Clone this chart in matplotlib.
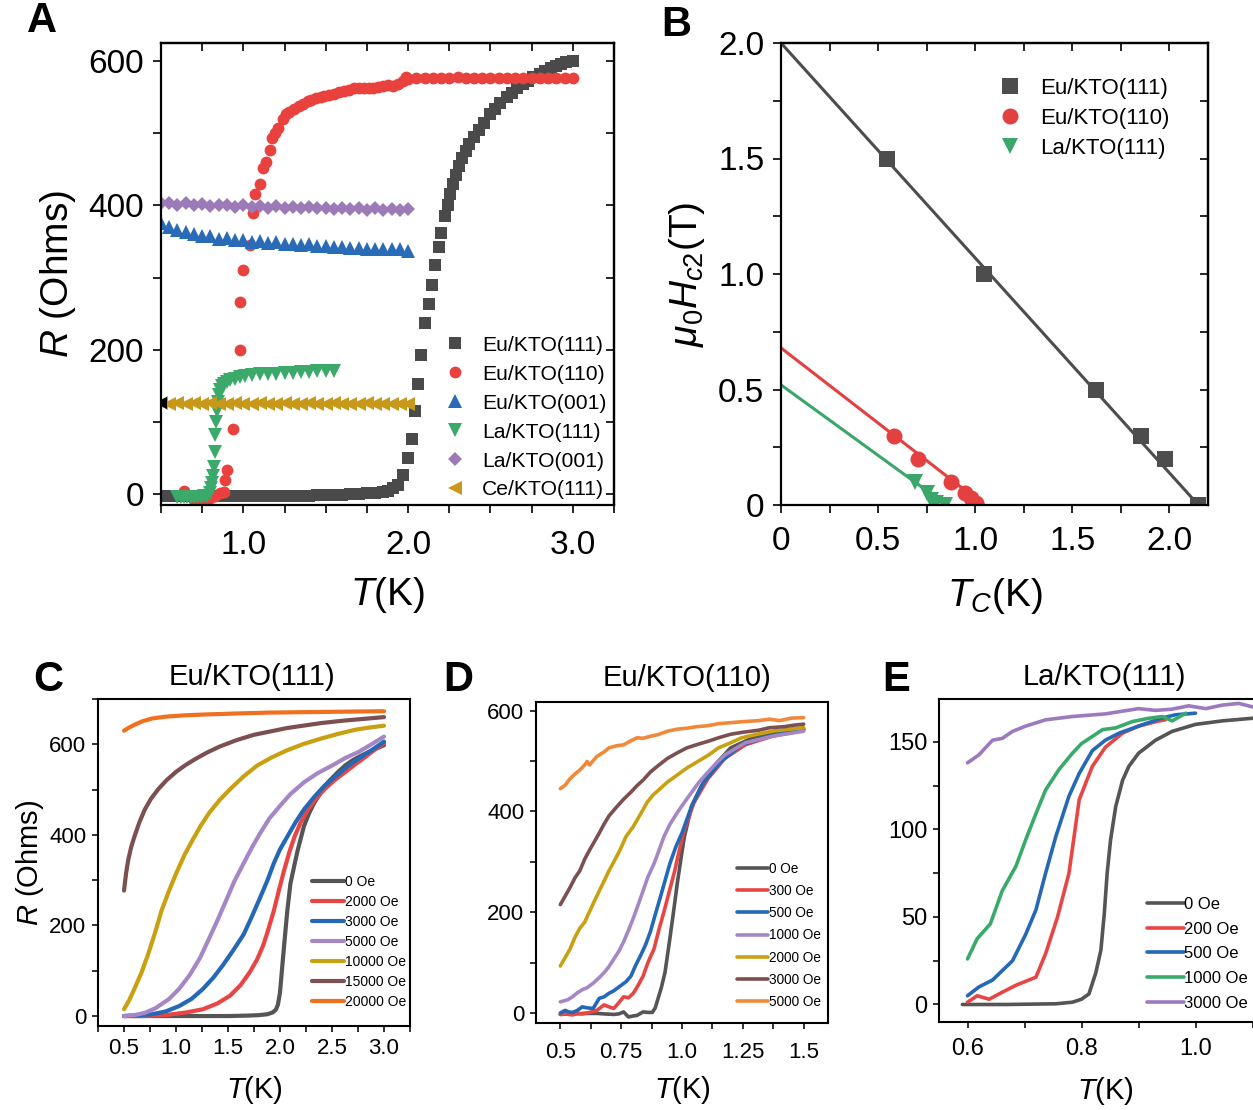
import numpy as np
import matplotlib
matplotlib.use("Agg")
import matplotlib.pyplot as plt
from matplotlib.ticker import MultipleLocator, FixedLocator

plt.rcParams['font.family'] = ['Liberation Sans', 'DejaVu Sans']
plt.rcParams['mathtext.fontset'] = 'custom'
plt.rcParams['mathtext.rm'] = 'Liberation Sans'
plt.rcParams['mathtext.it'] = 'Liberation Sans:italic'
plt.rcParams['mathtext.bf'] = 'Liberation Sans:bold'

# ---------------- Panel A: R(T) for the different interfaces ----------------
a_eu111_T = [0.50, 0.55, 0.60, 0.65, 0.70, 0.75, 0.80, 0.85, 0.90, 0.95, 1.00, 1.05, 1.10, 1.15,
             1.20, 1.25, 1.30, 1.35, 1.40, 1.45, 1.50, 1.55, 1.60, 1.65, 1.70, 1.75, 1.80, 1.85,
             1.88, 1.91, 1.94, 1.97, 2.00, 2.026, 2.043, 2.061, 2.081, 2.105, 2.125, 2.143, 2.163,
             2.185, 2.20, 2.222, 2.242, 2.254, 2.27, 2.29, 2.31, 2.33, 2.35, 2.37, 2.40, 2.43, 2.46,
             2.50, 2.53, 2.56, 2.60, 2.63, 2.66, 2.70, 2.73, 2.76, 2.80, 2.83, 2.87, 2.90, 2.93,
             2.96, 3.00]
a_eu111_R = [-2, -2, -2, -2, -2, -2, -2, -2, -2, -2, -2, -2, -2, -2,
             -2, -2, -2, -2, -2, -1, -1, -1, -1, 0, 0, 1, 2, 3,
             5, 8, 13, 27, 50, 77, 115, 153, 193, 237, 263, 290, 318,
             342, 362, 385, 401, 416, 430, 442, 455, 466, 476, 485, 495, 505, 514,
             526, 534, 542, 550, 556, 562, 568, 573, 578, 582, 586, 590, 593, 596,
             598, 600]

a_eu110_T = [0.64, 0.70, 0.74, 0.78, 0.80, 0.83, 0.86, 0.88, 0.89, 0.90, 0.94, 0.98, 0.98, 1.00,
             1.04, 1.06, 1.07, 1.10, 1.12, 1.14, 1.16, 1.175, 1.19, 1.21, 1.24, 1.26, 1.28, 1.31,
             1.34, 1.36, 1.39, 1.41, 1.44, 1.47, 1.49, 1.52, 1.55, 1.58, 1.61, 1.64, 1.67, 1.70,
             1.73, 1.76, 1.79, 1.82, 1.85, 1.88, 1.91, 1.94, 1.97, 1.99, 2.00, 2.05, 2.10, 2.15,
             2.20, 2.25, 2.30, 2.35, 2.40, 2.45, 2.50, 2.55, 2.60, 2.65, 2.70, 2.75, 2.80, 2.85,
             2.90, 2.95, 3.00]
a_eu110_R = [5, -8, -5, -8, -5, -3, 2, 3, 19, 33, 90, 200, 266, 311,
             345, 389, 416, 430, 452, 460, 477, 493, 500, 507, 520, 526, 530, 533,
             538, 540, 544, 546, 549, 550, 552, 553, 555, 557, 559, 560, 562, 563,
             562, 563, 562, 564, 566, 567, 566, 568, 572, 578, 575, 576, 577, 577,
             577, 577, 578, 577, 577, 577, 577, 577, 577, 577, 577, 577, 577, 577,
             577, 577, 576]

a_eu001_T = [0.50, 0.55, 0.60, 0.65, 0.70, 0.75, 0.80, 0.85, 0.90, 0.95, 1.00, 1.05, 1.10, 1.15,
             1.20, 1.25, 1.30, 1.35, 1.40, 1.45, 1.50, 1.55, 1.60, 1.65, 1.70, 1.75, 1.80, 1.85,
             1.90, 1.95, 2.00]
a_eu001_R = [375, 370, 366, 363, 361, 358, 357, 354, 355, 352, 352, 350, 351, 348,
             349, 346, 347, 345, 346, 344, 344, 342, 343, 341, 341, 340, 340, 339,
             339, 340, 337]

a_la111_T = [0.60, 0.62, 0.64, 0.66, 0.68, 0.70, 0.72, 0.74, 0.76, 0.78, 0.80, 0.805, 0.81, 0.815,
             0.82, 0.825, 0.83, 0.835, 0.84, 0.845, 0.85, 0.86, 0.87, 0.88, 0.90, 0.92, 0.95, 0.98,
             1.01, 1.05, 1.10, 1.15, 1.20, 1.25, 1.30, 1.35, 1.40, 1.45, 1.50, 1.55]
a_la111_R = [-4, -4, -4, -4, -4, -4, -4, -4, -3, -2, 2, 8, 15, 25,
             38, 58, 82, 100, 115, 127, 137, 145, 150, 153, 156, 158, 160, 162,
             164, 165, 166, 167, 167, 168, 168, 169, 169, 170, 170, 170]

a_la001_T = a_eu001_T
a_la001_R = [403, 404, 401, 403, 400, 402, 399, 401, 400, 398, 400, 398, 399, 397,
             399, 397, 398, 396, 398, 396, 397, 395, 397, 395, 396, 394, 396, 394,
             395, 394, 395]

a_ce111_T = a_eu001_T
a_ce111_R = [126, 125, 126, 125, 126, 125, 126, 125, 125, 126, 125, 125, 126, 125,
             125, 126, 125, 125, 126, 125, 125, 126, 125, 125, 125, 126, 125, 125,
             125, 125, 125]

# ---------------- Panel B: upper critical field vs Tc ----------------
b_eu111_Tc = [0.547, 1.045, 1.624, 1.855, 1.976, 2.15]
b_eu111_H = [1.5, 1.0, 0.5, 0.3, 0.2, 0.0]
b_eu110_Tc = [0.583, 0.708, 0.878, 0.949, 0.98, 1.005]
b_eu110_H = [0.3, 0.2, 0.1, 0.05, 0.03, 0.01]
b_la111_Tc = [0.69, 0.75, 0.775, 0.80, 0.845]
b_la111_H = [0.1, 0.05, 0.02, 0.01, 0.0]
# linear-fit lines (intercepts and slopes)
b_fit_eu111 = (2.0, -0.930)
b_fit_eu110 = (0.68, -0.650)
b_fit_la111 = (0.52, -0.610)

# ---------------- Panel C: Eu/KTO(111) field dependence ----------------
c_fields = ['0 Oe', '2000 Oe', '3000 Oe', '5000 Oe', '10000 Oe', '15000 Oe', '20000 Oe']
c_T = [
    [0.5, 0.7, 0.9, 1.1, 1.3, 1.5, 1.7, 1.8, 1.88, 1.93, 1.96, 1.98, 2.0, 2.02, 2.04, 2.07, 2.1,
     2.14, 2.17, 2.23, 2.28, 2.33, 2.4, 2.46, 2.55, 2.625, 2.7, 2.79, 2.9, 3.0],
    [0.5, 0.7, 0.9, 1.1, 1.26, 1.4, 1.52, 1.62, 1.71, 1.78, 1.84, 1.89, 1.94, 1.99, 2.04, 2.09,
     2.14, 2.2, 2.27, 2.35, 2.43, 2.52, 2.625, 2.72, 2.82, 2.91, 3.0],
    [0.5, 0.6, 0.77, 0.9, 1.03, 1.15, 1.26, 1.36, 1.45, 1.55, 1.65, 1.73, 1.81, 1.88, 1.94, 2.0,
     2.07, 2.15, 2.23, 2.33, 2.43, 2.55, 2.66, 2.78, 2.9, 3.0],
    [0.5, 0.6, 0.7, 0.8, 0.93, 1.03, 1.13, 1.23, 1.32, 1.4, 1.48, 1.56, 1.65, 1.73, 1.81, 1.9,
     2.0, 2.1, 2.23, 2.36, 2.5, 2.63, 2.755, 2.88, 3.0],
    [0.5, 0.55, 0.6, 0.67, 0.73, 0.8, 0.86, 0.93, 1.0, 1.08, 1.16, 1.24, 1.32, 1.42, 1.52, 1.65,
     1.78, 1.92, 2.07, 2.23, 2.4, 2.56, 2.72, 2.86, 3.0],
    [0.5, 0.52, 0.54, 0.57, 0.6, 0.65, 0.7, 0.76, 0.83, 0.91, 1.0, 1.09, 1.19, 1.3, 1.42, 1.58,
     1.75, 1.9, 2.07, 2.25, 2.4, 2.6, 2.8, 3.0],
    [0.5, 0.55, 0.6, 0.68, 0.77, 0.9, 1.09, 1.3, 1.58, 1.9, 2.23, 2.6, 3.0],
]
c_R = [
    [0, 0, 0, 0, 0, 0, 1, 2, 4, 8, 14, 25, 52, 105, 157, 232, 292, 335, 366, 419, 448, 471, 496,
     516, 537, 553, 565, 576, 588, 598],
    [0, 0, 2, 8, 15, 28, 45, 68, 97, 125, 157, 193, 232, 278, 322, 362, 396, 428, 456, 481, 501,
     520, 538, 555, 572, 588, 602],
    [0, 1, 4, 10, 22, 38, 60, 85, 112, 145, 180, 220, 262, 300, 337, 368, 396, 428, 456, 484, 509,
     532, 553, 572, 590, 606],
    [0, 2, 7, 17, 37, 60, 90, 128, 172, 212, 254, 297, 337, 372, 404, 437, 464, 490, 516, 536, 553,
     570, 583, 600, 617],
    [15, 35, 60, 97, 135, 185, 232, 275, 314, 355, 389, 421, 449, 477, 501, 529, 553, 571, 587, 601,
     613, 623, 632, 637, 641],
    [277, 315, 344, 374, 396, 429, 456, 480, 501, 521, 539, 554, 568, 582, 595, 609, 621, 628, 636,
     642, 647, 652, 656, 660],
    [630, 637, 643, 651, 657, 661, 664, 666, 668, 670, 671, 672, 673],
]
c_colors = ['#555555', '#e84545', '#2468b6', '#a587c6', '#c9a010', '#7c5050', '#f07020']

# ---------------- Panel D: Eu/KTO(110) field dependence ----------------
d_fields = ['0 Oe', '300 Oe', '500 Oe', '1000 Oe', '2000 Oe', '3000 Oe', '5000 Oe']
d_T = [
    [0.5, 0.55, 0.6, 0.65, 0.68, 0.72, 0.74, 0.76, 0.78, 0.8, 0.815, 0.84, 0.86, 0.878, 0.89, 0.9,
     0.915, 0.93, 0.95, 0.965, 0.98, 1.0, 1.01, 1.04, 1.08, 1.135, 1.2, 1.29, 1.385, 1.5],
    [0.5, 0.52, 0.55, 0.57, 0.59, 0.62, 0.65, 0.68, 0.7, 0.72, 0.74, 0.76, 0.78, 0.8, 0.82, 0.84,
     0.86, 0.885, 0.905, 0.926, 0.95, 0.97, 0.99, 1.01, 1.05, 1.107, 1.176, 1.26, 1.37, 1.5],
    [0.5, 0.52, 0.535, 0.55, 0.57, 0.59, 0.61, 0.635, 0.66, 0.68, 0.7, 0.72, 0.745, 0.77, 0.79,
     0.81, 0.83, 0.85, 0.87, 0.89, 0.91, 0.93, 0.95, 0.975, 1.0, 1.04, 1.09, 1.16, 1.245, 1.357,
     1.5],
    [0.5, 0.53, 0.55, 0.57, 0.59, 0.61, 0.635, 0.66, 0.68, 0.7, 0.72, 0.74, 0.76, 0.78, 0.8, 0.82,
     0.84, 0.86, 0.885, 0.905, 0.926, 0.95, 0.98, 1.01, 1.04, 1.07, 1.107, 1.14, 1.176, 1.26, 1.37,
     1.5],
    [0.5, 0.52, 0.54, 0.56, 0.58, 0.6, 0.62, 0.64, 0.66, 0.68, 0.7, 0.72, 0.745, 0.77, 0.8, 0.83,
     0.857, 0.88, 0.91, 0.94, 0.98, 1.02, 1.065, 1.11, 1.15, 1.2, 1.245, 1.3, 1.37, 1.44, 1.5],
    [0.5, 0.52, 0.54, 0.56, 0.58, 0.6, 0.62, 0.64, 0.66, 0.68, 0.7, 0.73, 0.76, 0.79, 0.815, 0.84,
     0.87, 0.9, 0.94, 0.98, 1.02, 1.065, 1.107, 1.15, 1.2, 1.25, 1.315, 1.36, 1.42, 1.46, 1.5],
    [0.5, 0.52, 0.54, 0.56, 0.58, 0.6, 0.61, 0.62, 0.65, 0.68, 0.7, 0.73, 0.76, 0.79, 0.815, 0.84,
     0.87, 0.9, 0.94, 0.98, 1.02, 1.06, 1.107, 1.15, 1.2, 1.25, 1.315, 1.36, 1.4, 1.45, 1.5],
]
d_R = [
    [-3, -2, -1, -1, -2, -3, -2, 2, -8, -6, -5, 2, 1, 1, 10, 26, 50, 80, 147, 200, 255, 320, 350,
     411, 451, 492, 526, 546, 556, 563],
    [-3, -2, -4, -1, -2, 1, 5, 16, 12, 9, 20, 32, 30, 39, 55, 73, 100, 127, 165, 201, 245, 282, 325,
     364, 418, 465, 505, 532, 549, 561],
    [0, 5, 2, 1, 5, 12, 10, 9, 29, 32, 39, 44, 53, 62, 73, 95, 114, 135, 161, 195, 228, 262, 296,
     330, 357, 411, 458, 499, 532, 549, 563],
    [22, 26, 32, 40, 46, 50, 59, 70, 80, 92, 107, 122, 141, 164, 188, 215, 242, 270, 296, 322, 350,
     374, 397, 418, 438, 458, 478, 495, 512, 536, 549, 559],
    [93, 110, 127, 150, 168, 180, 201, 222, 242, 262, 282, 300, 323, 350, 370, 395, 418, 432, 445,
     458, 472, 486, 499, 512, 526, 536, 546, 552, 559, 563, 566],
    [215, 232, 249, 268, 282, 305, 323, 340, 357, 375, 391, 408, 424, 438, 451, 462, 478, 490, 505,
     516, 526, 533, 539, 546, 553, 557, 561, 566, 568, 571, 573],
    [445, 452, 465, 474, 482, 492, 499, 492, 509, 518, 526, 530, 532, 540, 546, 545, 549, 552, 559,
     563, 565, 568, 570, 574, 576, 578, 580, 583, 580, 585, 586],
]
d_colors = ['#555555', '#e84545', '#2468b6', '#a587c6', '#c9a010', '#7c5050', '#f08a3a']

# ---------------- Panel E: La/KTO(111) field dependence ----------------
e_fields = ['0 Oe', '200 Oe', '500 Oe', '1000 Oe', '3000 Oe']
e_T = [
    [0.591, 0.667, 0.755, 0.784, 0.80, 0.813, 0.825, 0.834, 0.84, 0.845, 0.851, 0.86, 0.872, 0.883,
     0.90, 0.93, 0.959, 1.0, 1.047, 1.1, 1.15],
    [0.6, 0.617, 0.638, 0.661, 0.685, 0.72, 0.737, 0.758, 0.778, 0.796, 0.819, 0.842, 0.872, 0.90,
     0.936, 0.947],
    [0.6, 0.62, 0.644, 0.679, 0.702, 0.72, 0.737, 0.755, 0.778, 0.796, 0.819, 0.842, 0.866, 0.90,
     0.94, 0.965, 1.0],
    [0.6, 0.617, 0.64, 0.661, 0.685, 0.702, 0.72, 0.737, 0.76, 0.784, 0.80, 0.837, 0.86, 0.889,
     0.918, 0.942, 0.959, 0.983],
    [0.6, 0.62, 0.644, 0.661, 0.679, 0.702, 0.737, 0.784, 0.842, 0.90, 0.93, 0.959, 0.988, 1.018,
     1.047, 1.076, 1.1, 1.15],
]
e_R = [
    [0, 0, 0.4, 1.3, 3, 6, 18, 31, 52, 75, 94, 113, 128, 136, 143.5, 151, 156, 160, 162, 163.5,
     164.5],
    [1.3, 5, 3, 7, 11, 15.6, 29, 50, 75, 117, 136, 147, 155, 159, 162, 162.6],
    [5, 10, 14, 25, 40, 54, 75, 96, 119, 132, 145, 151, 155, 159, 163.5, 165.5, 166.4],
    [26, 37.6, 46, 65, 79, 94, 109, 122.5, 134, 143.5, 149, 157, 158, 161.6, 163.5, 164.5, 162,
     166.4],
    [138, 142.6, 151, 152, 156, 159, 162.6, 164.5, 166, 169, 168, 168.7, 170.6, 169, 171, 172, 170,
     169],
]
e_colors = ['#555555', '#e84545', '#2468b6', '#3aaa6a', '#9d7abf']

W, H = 1253, 1110
fig = plt.figure(figsize=(W / 100, H / 100), dpi=100)


def box(l, r, t, b):
    return [l / W, 1 - b / H, (r - l) / W, (b - t) / H]


def style_axes(ax, lw=1.5, mirror=False, ticklen=6, labelsize=24, xpad=6, ypad=6):
    for s in ax.spines.values():
        s.set_linewidth(lw)
    ax.tick_params(which='both', direction='out', length=ticklen, width=lw * 0.75,
                   labelsize=labelsize, top=False, right=False)
    ax.tick_params(axis='x', which='both', pad=xpad)
    ax.tick_params(axis='y', which='both', pad=ypad)
    if mirror:
        tx = ax.secondary_xaxis('top')
        ty = ax.secondary_yaxis('right')
        tx.xaxis.set_major_locator(FixedLocator(ax.get_xticks(minor=False).tolist()
                                                + ax.get_xticks(minor=True).tolist()))
        ty.yaxis.set_major_locator(FixedLocator(ax.get_yticks(minor=False).tolist()
                                                + ax.get_yticks(minor=True).tolist()))
        for t in (tx, ty):
            t.tick_params(direction='in', length=ticklen, width=lw * 0.75,
                          labeltop=False, labelright=False, labelleft=False, labelbottom=False)
            for s in t.spines.values():
                s.set_linewidth(lw)


# ---- A ----
axA = fig.add_axes(box(161, 614, 43, 505))
mk = dict(linestyle='none', markeredgewidth=0)
axA.plot(a_eu111_T, a_eu111_R, marker='s', ms=8, color='#4a4a4a', label='Eu/KTO(111)', **mk)
axA.plot(a_eu110_T, a_eu110_R, marker='o', ms=8.5, color='#e8413e', label='Eu/KTO(110)', **mk)
axA.plot(a_eu001_T, a_eu001_R, marker='^', ms=9.5, color='#2a6bb8', label='Eu/KTO(001)', **mk)
axA.plot(a_la111_T, a_la111_R, marker='v', ms=9.5, color='#3aa96a', label='La/KTO(111)', **mk)
axA.plot(a_la001_T, a_la001_R, marker='D', ms=7.5, color='#9c7ab8', label='La/KTO(001)', **mk)
axA.plot(a_ce111_T, a_ce111_R, marker='<', ms=9.5, color='#c8981a', label='Ce/KTO(111)', **mk)
axA.plot(a_ce111_T[:1], a_ce111_R[:1], marker='<', ms=9, color='black', **mk)
axA.set_xlim(0.5, 3.25)
axA.set_ylim(-15, 625)
axA.xaxis.set_major_locator(FixedLocator([1.0, 2.0, 3.0]))
axA.xaxis.set_minor_locator(FixedLocator([0.5, 0.75, 1.25, 1.5, 1.75, 2.25, 2.5, 2.75, 3.25]))
axA.yaxis.set_major_locator(MultipleLocator(200))
axA.yaxis.set_minor_locator(MultipleLocator(100))
axA.set_xticklabels(['1.0', '2.0', '3.0'])
style_axes(axA, lw=1.6, mirror=True, ticklen=6, labelsize=24, xpad=12, ypad=6)
axA.set_xlabel(r'$T$(K)', fontsize=28, labelpad=10)
axA.set_ylabel(r'$R$ (Ohms)', fontsize=28, labelpad=8)
axA.legend(loc='lower left', bbox_to_anchor=(0.630, 0.012), frameon=False, fontsize=15.2,
           handlelength=0.8, handletextpad=0.9, labelspacing=0.47, borderaxespad=0.0,
           borderpad=0.0)

# ---- B ----
axB = fig.add_axes(box(781, 1208, 43, 505))
axB.plot(b_eu111_Tc, b_eu111_H, marker='s', ms=11, color='#4d4d4d', label='Eu/KTO(111)', **mk)
axB.plot(b_eu110_Tc, b_eu110_H, marker='o', ms=11.5, color='#e3403f', label='Eu/KTO(110)', **mk)
axB.plot(b_la111_Tc, b_la111_H, marker='v', ms=11.5, color='#3aa66a', label='La/KTO(111)', **mk)
for (c0, c1), col in ((b_fit_eu111, '#4d4d4d'), (b_fit_eu110, '#e3403f'), (b_fit_la111, '#3aa66a')):
    xend = -c0 / c1
    xs = np.array([0.0, xend])
    axB.plot(xs, c0 + c1 * xs, color=col, lw=2.2, zorder=1)
axB.set_xlim(0, 2.2)
axB.set_ylim(0, 2.0)
axB.xaxis.set_minor_locator(MultipleLocator(0.25))
axB.yaxis.set_minor_locator(MultipleLocator(0.25))
axB.set_xticks([0, 0.5, 1.0, 1.5, 2.0])
axB.set_xticklabels(['0', '0.5', '1.0', '1.5', '2.0'])
axB.set_yticks([0, 0.5, 1.0, 1.5, 2.0])
axB.set_yticklabels(['0', '0.5', '1.0', '1.5', '2.0'])
style_axes(axB, lw=1.6, mirror=True, ticklen=6, labelsize=24, xpad=9, ypad=6)
axB.set_xlabel(r'$T_C$(K)', fontsize=28, labelpad=14)
axB.set_ylabel(r'$\mu_0H_{c2}$(T)', fontsize=28, labelpad=8)
axB.legend(loc='upper left', bbox_to_anchor=(0.51, 0.924), frameon=False, fontsize=16,
           handlelength=1.0, handletextpad=0.85, labelspacing=0.4, borderaxespad=0.0,
           borderpad=0.0)


def line_panel(ax, Ts, Rs, labels, colors, lw):
    for T, R, lab, col in zip(Ts, Rs, labels, colors):
        ax.plot(T, R, color=col, lw=lw, label=lab, solid_capstyle='round',
                solid_joinstyle='round')


# ---- C ----
axC = fig.add_axes(box(98, 410, 699, 1026))
line_panel(axC, c_T, c_R, c_fields, c_colors, 3.0)
axC.set_xlim(0.25, 3.25)
axC.set_ylim(-22, 700)
axC.xaxis.set_minor_locator(MultipleLocator(0.25))
axC.set_xticks([0.5, 1.0, 1.5, 2.0, 2.5, 3.0])
axC.set_xticklabels(['0.5', '1.0', '1.5', '2.0', '2.5', '3.0'])
axC.yaxis.set_major_locator(MultipleLocator(200))
axC.yaxis.set_minor_locator(MultipleLocator(100))
style_axes(axC, lw=1.5, ticklen=4.5, labelsize=16, xpad=4, ypad=4)
axC.set_xlabel(r'$T$(K)', fontsize=21, labelpad=11)
axC.set_ylabel(r'$R$ (Ohms)', fontsize=21, labelpad=2)
axC.legend(loc='upper left', bbox_to_anchor=(0.686, 0.462), frameon=False, fontsize=10,
           handlelength=2.3, handletextpad=0.05, labelspacing=0.43, borderaxespad=0.0,
           borderpad=0.0)

# ---- D ----
axD = fig.add_axes(box(536, 828, 702, 1023))
line_panel(axD, d_T, d_R, d_fields, d_colors, 2.6)
axD.set_xlim(0.4, 1.6)
axD.set_ylim(-20, 617)
axD.set_xticks([0.5, 0.75, 1.0, 1.25, 1.5])
axD.set_xticklabels(['0.5', '0.75', '1.0', '1.25', '1.5'])
axD.xaxis.set_minor_locator(FixedLocator([0.625, 0.875, 1.125, 1.375]))
axD.yaxis.set_major_locator(MultipleLocator(200))
axD.yaxis.set_minor_locator(MultipleLocator(100))
style_axes(axD, lw=1.5, ticklen=4.5, labelsize=16, xpad=9, ypad=4)
axD.set_xlabel(r'$T$(K)', fontsize=21, labelpad=8)
axD.legend(loc='upper left', bbox_to_anchor=(0.688, 0.502), frameon=False, fontsize=9.8,
           handlelength=2.3, handletextpad=0.05, labelspacing=0.6, borderaxespad=0.0,
           borderpad=0.0)

# ---- E (the axes run past the right edge of the figure) ----
axE = fig.add_axes(box(939, 1281, 699, 1022))
line_panel(axE, e_T, e_R, e_fields, e_colors, 2.6)
axE.set_xlim(0.55, 1.15)
axE.set_ylim(-10, 174.5)
axE.set_xticks([0.6, 0.8, 1.0])
axE.set_xticklabels(['0.6', '0.8', '1.0'])
axE.xaxis.set_minor_locator(FixedLocator([0.7, 0.9, 1.1]))
axE.yaxis.set_major_locator(MultipleLocator(50))
axE.yaxis.set_minor_locator(MultipleLocator(25))
style_axes(axE, lw=1.5, ticklen=4.5, labelsize=17, xpad=7, ypad=4)
axE.set_xlabel(r'$T$(K)', fontsize=21)
axE.xaxis.set_label_coords((1105 - 939) / 342, -0.164)
axE.legend(loc='upper left', bbox_to_anchor=(0.608, 0.387), frameon=False, fontsize=12,
           handlelength=2.2, handletextpad=0.05, labelspacing=0.58, borderaxespad=0.0,
           borderpad=0.0)

# panel titles and letters
fig.text(252 / W, 1 - 677 / H, 'Eu/KTO(111)', fontsize=21, ha='center', va='center')
fig.text(687 / W, 1 - 678 / H, 'Eu/KTO(110)', fontsize=21, ha='center', va='center')
fig.text(1104 / W, 1 - 677 / H, 'La/KTO(111)', fontsize=21, ha='center', va='center')
for letter, x, y in (('A', 42, 21), ('B', 676, 25), ('C', 48, 680), ('D', 458, 680), ('E', 896, 680)):
    fig.text(x / W, 1 - y / H, letter, fontsize=30, fontweight='bold', ha='center', va='center')

fig.savefig('out.png', dpi=100)
